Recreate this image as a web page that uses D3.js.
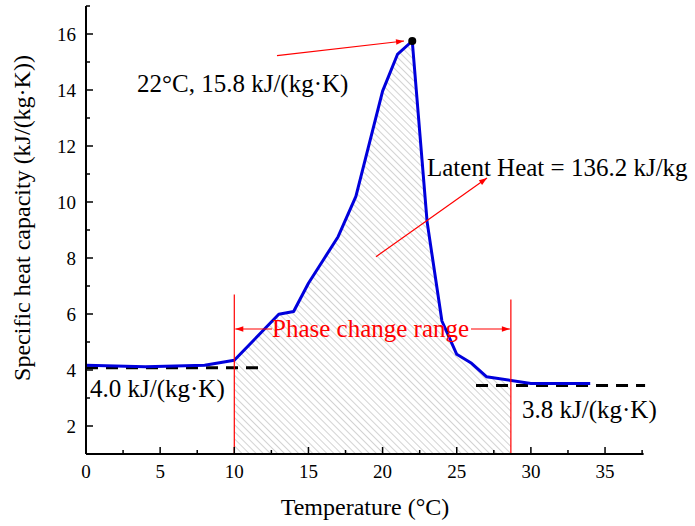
<!DOCTYPE html>
<html>
<head>
<meta charset="utf-8">
<script src="https://cdn.jsdelivr.net/npm/d3@7/dist/d3.min.js"></script>
<style>
  html, body { margin: 0; padding: 0; background: #fff; }
  svg { display: block; font-family: "Liberation Serif", "Times New Roman", serif; }
</style>
</head>
<body>
<svg id="chart" width="695" height="526"></svg>
<script>
// ---- data ----
const temperature = [0, 4, 8, 10, 13, 14, 15, 16, 17, 18.2, 20, 21, 22, 23, 24, 25, 26, 27, 30, 34];
const heatCapacity = [4.17, 4.12, 4.17, 4.35, 5.99, 6.09, 7.1, 7.93, 8.76, 10.2, 13.96, 15.27, 15.75, 9.3, 5.75, 4.56, 4.24, 3.76, 3.52, 3.52];
const xTicks = [0, 5, 10, 15, 20, 25, 30, 35];
const yTicks = [2, 4, 6, 8, 10, 12, 14, 16];
const phaseRange = [10, 28.65];
const phaseLineTop = [6.7, 6.52];
const refLineStart = [0, 26.3];
const refLineEnd = [11.7, 37.7];
const refLineValue = [4.08, 3.45];
const refLabels = ["4.0 kJ/(kg·K)", "3.8 kJ/(kg·K)"];
const peak = [22, 15.75];

// ---- layout ----
const svg = d3.select("#chart");
const x = d3.scaleLinear().domain([0, 37.6]).range([86, 643.6]);
const y = d3.scaleLinear().domain([1, 17]).range([454, 6]);
const font = '"Liberation Serif", "Times New Roman", serif';
const annFont = 25;

const defs = svg.append("defs");
const pat = defs.append("pattern")
  .attr("id", "hatch").attr("patternUnits", "userSpaceOnUse")
  .attr("width", 5).attr("height", 5)
  .attr("patternTransform", "rotate(-45)");
pat.append("line").attr("x1", 0).attr("y1", 0).attr("x2", 0).attr("y2", 5)
  .attr("stroke", "#a8a8a8").attr("stroke-width", 1);
const mk = defs.append("marker").attr("id", "arrow")
  .attr("viewBox", "0 0 10 10").attr("refX", 10).attr("refY", 5)
  .attr("markerWidth", 13).attr("markerHeight", 8).attr("markerUnits", "userSpaceOnUse")
  .attr("orient", "auto");
mk.append("path").attr("d", "M0,1.5 L10,5 L0,8.5 Z").attr("fill", "#ff0000");

const pts = temperature.map((t, i) => [t, heatCapacity[i]]);

// hatched area within phase change range
function interp(t) {
  for (let i = 0; i < pts.length - 1; i++) {
    if (t >= pts[i][0] && t <= pts[i + 1][0]) {
      const f = (t - pts[i][0]) / (pts[i + 1][0] - pts[i][0]);
      return pts[i][1] + f * (pts[i + 1][1] - pts[i][1]);
    }
  }
  return pts[pts.length - 1][1];
}
const areaPts = [[phaseRange[0], interp(phaseRange[0])]]
  .concat(pts.filter(p => p[0] > phaseRange[0] && p[0] < phaseRange[1]))
  .concat([[phaseRange[1], interp(phaseRange[1])]]);
svg.append("path").datum(areaPts)
  .attr("d", d3.area().x(d => x(d[0])).y0(y(1)).y1(d => y(d[1])))
  .attr("fill", "url(#hatch)");

// reference dashed lines
refLineValue.forEach((v, i) => {
  svg.append("line")
    .attr("x1", x(refLineStart[i])).attr("x2", x(refLineEnd[i]))
    .attr("y1", y(v)).attr("y2", y(v))
    .attr("stroke", "#000").attr("stroke-width", 3)
    .attr("stroke-dasharray", "12,8");
});

// main curve
svg.append("path").datum(pts)
  .attr("d", d3.line().x(d => x(d[0])).y(d => y(d[1])))
  .attr("fill", "none").attr("stroke", "#0000dc").attr("stroke-width", 3)
  .attr("stroke-linejoin", "round");

// phase change vertical lines
phaseRange.forEach((t, i) => {
  svg.append("line").attr("x1", x(t)).attr("x2", x(t))
    .attr("y1", y(phaseLineTop[i])).attr("y2", y(1))
    .attr("stroke", "#ff0000").attr("stroke-width", 1.2);
});

// axes
const xAxis = svg.append("g").attr("transform", `translate(0,${y(1)})`);
xAxis.append("line").attr("x1", x(0)).attr("x2", x(37.6)).attr("stroke", "#000").attr("stroke-width", 2);
d3.range(0, 37.6, 2.5).forEach(t => {
  const major = t % 5 === 0;
  xAxis.append("line").attr("x1", x(t)).attr("x2", x(t)).attr("y1", 0).attr("y2", major ? -7 : -4)
    .attr("stroke", "#000").attr("stroke-width", 1.5);
});
xTicks.forEach(t => {
  xAxis.append("text").attr("x", x(t)).attr("y", 24).attr("text-anchor", "middle")
    .attr("font-size", 19).attr("font-family", font).text(t);
});

const yAxis = svg.append("g").attr("transform", `translate(${x(0)},0)`);
yAxis.append("line").attr("y1", y(1)).attr("y2", y(17)).attr("stroke", "#000").attr("stroke-width", 2);
d3.range(2, 17.01, 1).forEach(v => {
  const major = v % 2 === 0;
  yAxis.append("line").attr("x1", 0).attr("x2", major ? 7 : 4).attr("y1", y(v)).attr("y2", y(v))
    .attr("stroke", "#000").attr("stroke-width", 1.5);
});
yTicks.forEach(v => {
  yAxis.append("text").attr("x", -10).attr("y", y(v)).attr("dy", "0.35em").attr("text-anchor", "end")
    .attr("font-size", 19).attr("font-family", font).text(v);
});

// axis titles
svg.append("text").attr("x", 365).attr("y", 515).attr("text-anchor", "middle")
  .attr("font-size", 24).attr("font-family", font).text("Temperature (°C)");
svg.append("text").attr("transform", "translate(30,218) rotate(-90)").attr("text-anchor", "middle")
  .attr("font-size", 24).attr("font-family", font).text("Specific heat capacity (kJ/(kg·K))");

// peak marker and annotation
svg.append("circle").attr("cx", x(peak[0])).attr("cy", y(peak[1])).attr("r", 4).attr("fill", "#000");
svg.append("line").attr("x1", 277).attr("y1", 55.7).attr("x2", 404).attr("y2", 41)
  .attr("stroke", "#ff0000").attr("stroke-width", 1.2).attr("marker-end", "url(#arrow)");
svg.append("text").attr("x", 137).attr("y", 92).attr("font-size", annFont).attr("font-family", font)
  .text("22°C, 15.8 kJ/(kg·K)");

// latent heat annotation
svg.append("line").attr("x1", 376).attr("y1", 256.7).attr("x2", 487).attr("y2", 178)
  .attr("stroke", "#ff0000").attr("stroke-width", 1.2).attr("marker-end", "url(#arrow)");
svg.append("text").attr("x", 427).attr("y", 176).attr("font-size", annFont).attr("font-family", font)
  .text("Latent Heat = 136.2 kJ/kg");

// phase change range annotation
const pcY = 329;
svg.append("line").attr("x1", 272).attr("y1", pcY).attr("x2", x(phaseRange[0]) + 1).attr("y2", pcY)
  .attr("stroke", "#ff0000").attr("stroke-width", 1.2).attr("marker-end", "url(#arrow)");
svg.append("line").attr("x1", 471).attr("y1", pcY).attr("x2", x(phaseRange[1]) - 1).attr("y2", pcY)
  .attr("stroke", "#ff0000").attr("stroke-width", 1.2).attr("marker-end", "url(#arrow)");
svg.append("text").attr("x", 272).attr("y", 337).attr("font-size", annFont).attr("font-family", font)
  .attr("fill", "#ff0000").text("Phase change range");

// reference labels
svg.append("text").attr("x", 90).attr("y", 397).attr("font-size", annFont).attr("font-family", font).text(refLabels[0]);
svg.append("text").attr("x", 522).attr("y", 418).attr("font-size", annFont).attr("font-family", font).text(refLabels[1]);
</script>
</body>
</html>
